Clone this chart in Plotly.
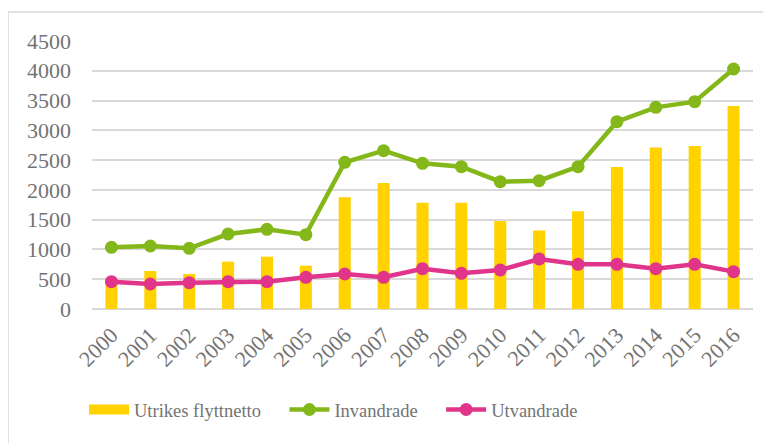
import plotly.graph_objects as go

years = [str(y) for y in range(2000, 2017)]
utrikes_flyttnetto = [470, 638, 587, 795, 879, 727, 1875, 2115, 1785, 1785, 1478, 1320, 1640, 2384, 2710, 2737, 3408]
invandrade = [1036, 1058, 1019, 1259, 1338, 1248, 2463, 2659, 2446, 2390, 2138, 2154, 2390, 3145, 3386, 3481, 4030]
utvandrade = [458, 420, 442, 458, 458, 532, 588, 532, 677, 599, 655, 840, 750, 750, 677, 750, 627]
y_ticks = [0, 500, 1000, 1500, 2000, 2500, 3000, 3500, 4000, 4500]
legend_names = ["Utrikes flyttnetto", "Invandrade", "Utvandrade"]

YELLOW = "#FFD200"
GREEN = "#84B81A"
PINK = "#E0358A"
TEXT = "#737373"
GRID = "#D9D9D9"
FONT = "Liberation Serif"
NB = "\u00a0"

# page body has an 8px margin, so the figure is drawn 8px in from the top-left
OFF = 8
W, H = 771 - OFF, 443 - OFF
L, R, T, B = 92 - OFF, 771 - 753, 41 - OFF, 443 - 309
PW, PH = W - L - R, H - T - B

fig = go.Figure()
fig.add_trace(go.Bar(x=years, y=utrikes_flyttnetto, name=legend_names[0],
                     marker=dict(color=YELLOW, line=dict(width=0)), showlegend=False))
# legend proxy for the bar series (wide swatch)
fig.add_trace(go.Scatter(x=[None], y=[None], mode="lines", name=legend_names[0] + NB * 4,
                         line=dict(color=YELLOW, width=12)))
fig.add_trace(go.Scatter(x=years, y=invandrade, name=legend_names[1] + NB * 4, mode="lines+markers",
                         line=dict(color=GREEN, width=4.5), marker=dict(color=GREEN, size=13)))
fig.add_trace(go.Scatter(x=years, y=utvandrade, name=legend_names[2], mode="lines+markers",
                         line=dict(color=PINK, width=4.5), marker=dict(color=PINK, size=13)))

fig.update_layout(
    width=W, height=H,
    margin=dict(l=L, r=R, t=T, b=B, autoexpand=False),
    paper_bgcolor="white", plot_bgcolor="white",
    font=dict(family=FONT, color=TEXT, size=20),
    bargap=0.69,
    showlegend=True,
    legend=dict(orientation="h", x=(84 - OFF - L) / PW, xanchor="left",
                y=-(410 - 309) / PH, yanchor="middle",
                font=dict(size=18.5, color=TEXT), itemwidth=40, tracegroupgap=0,
                bgcolor="rgba(0,0,0,0)"),
    xaxis=dict(type="category", range=[-0.5, 16.5], tickangle=-45, showgrid=False, showline=False,
               automargin=False, ticks="", ticklabelstandoff=8, tickfont=dict(size=22, color=TEXT)),
    yaxis=dict(range=[0, 4500], tickvals=y_ticks, showgrid=True, gridcolor=GRID, gridwidth=1.5,
               zeroline=True, zerolinecolor=GRID, zerolinewidth=1.5, showline=False, automargin=False,
               ticks="", ticklabelstandoff=20, tickfont=dict(size=22, color=TEXT)),
    shapes=[dict(type="rect", xref="paper", yref="paper",
                 x0=(8 - 92) / PW, x1=1.1, y0=-0.7, y1=(309 - 12) / PH,
                 line=dict(color=GRID, width=1.5), fillcolor="rgba(0,0,0,0)", layer="below")],
)

fig.write_html("out.html")
